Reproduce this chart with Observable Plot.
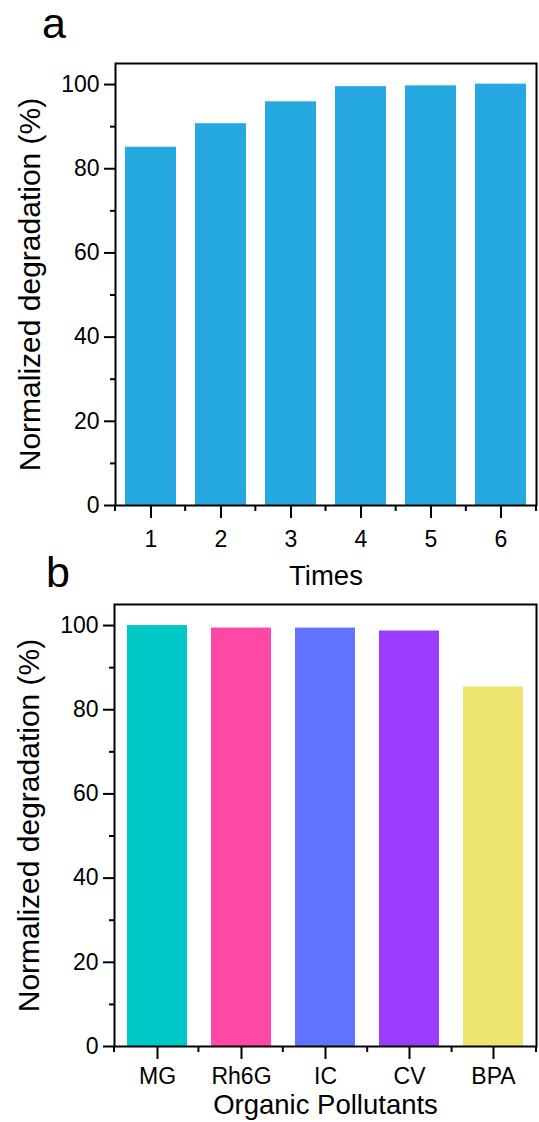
<!DOCTYPE html>
<html><head><meta charset="utf-8">
<script src="https://cdn.jsdelivr.net/npm/d3@7"></script>
<script src="https://cdn.jsdelivr.net/npm/@observablehq/plot@0.6"></script>
<style>
body{margin:0;background:#fff;}
#wrap{position:relative;width:539px;height:1122px;font-family:"Liberation Sans",Arial,sans-serif;background:#fff;overflow:hidden;}
.panel{position:absolute;left:0;}
.letter{position:absolute;font-size:43px;line-height:1;color:#000;}
</style></head><body><div id="wrap"></div>
<script>
const timesLabels = ["1","2","3","4","5","6"];
const degradationA = [85.1, 90.7, 95.9, 99.5, 99.7, 100.1];
const barColorA = "#25A9E0";
const pollutants = ["MG","Rh6G","IC","CV","BPA"];
const degradationB = [100.0, 99.4, 99.4, 98.7, 85.4];
const pollutantColors = ["#00C8C6","#FF47A6","#5F73FF","#9A3DFF","#ECE46F"];
const yMajor = [0,20,40,60,80,100];
const yMinor = [10,30,50,70,90];
const yTitle = "Normalized degradation (%)";
const xTitleA = "Times";
const xTitleB = "Organic Pollutants";

function edgeTicks(n, len) {
  return (index, scales, values, dims) => {
    const {width, height, marginLeft, marginRight, marginBottom} = dims;
    const step = (width - marginLeft - marginRight) / n;
    const y0 = height - marginBottom;
    const g = d3.create("svg:g").attr("stroke", "#000").attr("stroke-width", 2);
    for (let k = 0; k <= n; k++) {
      const x = marginLeft + k * step;
      g.append("line").attr("x1", x).attr("x2", x).attr("y1", y0).attr("y2", y0 + len);
    }
    return g.node();
  };
}

function panel(o) {
  const data = o.cats.map((c, i) => ({c, v: o.vals[i], f: o.fills[i]}));
  return Plot.plot({
    width: 539, height: o.height,
    marginTop: o.marginTop, marginBottom: o.marginBottom, marginLeft: o.marginLeft, marginRight: 3,
    style: {fontFamily: '"Liberation Sans", Arial, sans-serif', color: "#000", background: "#fff", overflow: "visible"},
    x: {domain: o.cats, paddingInner: o.padding, paddingOuter: o.padding / 2, align: 0.5, label: null},
    y: {domain: [0, 105], label: null},
    color: {type: "identity"},
    marks: [
      Plot.barY(data, {x: "c", y: "v", fill: d => d.f}),
      Plot.frame({stroke: "#000", strokeWidth: 2}),
      Plot.axisY(yMajor, {tickSize: 11, tickPadding: 5, fontSize: 23, strokeWidth: 2, label: null}),
      Plot.axisY(yMinor, {tickSize: 5, tickFormat: () => "", strokeWidth: 2, label: null}),
      Plot.axisX({tickSize: 13, tickPadding: o.tickPadding, fontSize: 23, strokeWidth: 2, label: null}),
      edgeTicks(o.cats.length, 6),
      Plot.text([o.xTitle], {frameAnchor: "bottom", dy: o.titleDy, fontSize: 27.5, lineAnchor: "bottom"}),
      Plot.text([yTitle], {frameAnchor: "left", rotate: -90, dx: -85, fontSize: 30, textAnchor: "middle", lineAnchor: "middle"})
    ]
  });
}

const wrap = document.getElementById("wrap");
const a = panel({cats: timesLabels, vals: degradationA, fills: timesLabels.map(() => barColorA),
  xTitle: xTitleA, height: 592, marginTop: 63, marginBottom: 87, marginLeft: 115,
  padding: 0.27, tickPadding: 12, titleDy: 79});
a.classList.add("panel"); a.style.top = "0px";
wrap.appendChild(a);
const b = panel({cats: pollutants, vals: degradationB, fills: pollutantColors,
  xTitle: xTitleB, height: 530, marginTop: 12, marginBottom: 76, marginLeft: 114,
  padding: 0.29, tickPadding: 8, titleDy: 67});
b.classList.add("panel"); b.style.top = "592px";
wrap.appendChild(b);
for (const [t, left, top] of [["a", 42, 2], ["b", 46, 551]]) {
  const d = document.createElement("div");
  d.className = "letter"; d.textContent = t;
  d.style.left = left + "px"; d.style.top = top + "px";
  wrap.appendChild(d);
}
</script></body></html>
